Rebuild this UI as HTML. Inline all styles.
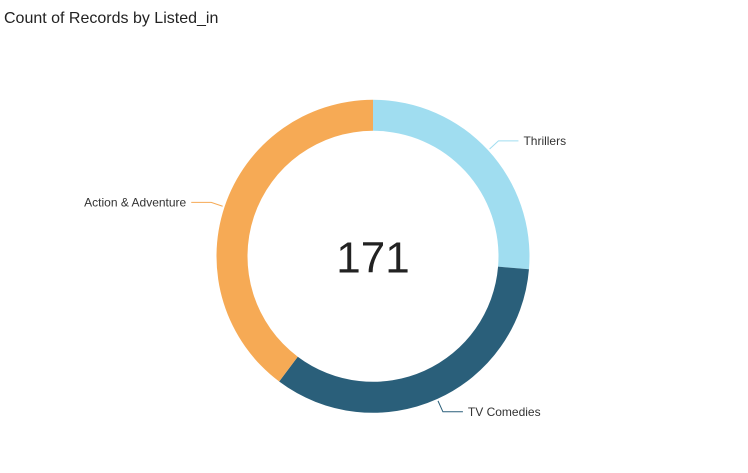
<!DOCTYPE html>
<html><head><meta charset="utf-8"><style>
body{margin:0;background:#fff;width:748px;height:473px;overflow:hidden;font-family:"Liberation Sans",sans-serif}
#title{position:absolute;left:4px;top:10px;font-size:16px;color:#222}
</style></head><body>
<div id="title">Count of Records by Listed_in</div>
<svg id="chart" width="748" height="473" style="position:absolute;left:0;top:0"></svg>
<script>
const categories=["Thrillers","TV Comedies","Action & Adventure"];
const values=[45,58,68];
const colors=["#a0ddf0","#2a5f7a","#f6aa55"];
const cx=373,cy=256.3,R=156.5,r=125.5;
const svg=document.getElementById('chart');
const NS='http://www.w3.org/2000/svg';
const total=values.reduce((a,b)=>a+b,0);
function pt(a,rad){return [cx+rad*Math.sin(a),cy-rad*Math.cos(a)];}
let acc=0;
values.forEach((v,i)=>{
  const a0=acc/total*2*Math.PI; acc+=v; const a1=acc/total*2*Math.PI;
  const lg=(a1-a0)>Math.PI?1:0;
  const p0=pt(a0,R),p1=pt(a1,R),q1=pt(a1,r),q0=pt(a0,r);
  const p=document.createElementNS(NS,'path');
  p.setAttribute('d',`M${p0}A${R},${R} 0 ${lg} 1 ${p1}L${q1}A${r},${r} 0 ${lg} 0 ${q0}Z`);
  p.setAttribute('fill',colors[i]);
  
  
  svg.appendChild(p);
  // label
  const mid=(a0+a1)/2;
  const e=pt(mid,R+2),k=pt(mid,R+14);
  const right=Math.sin(mid)>=0;
  const ex=k[0]+(right?20:-20);
  const l=document.createElementNS(NS,'polyline');
  l.setAttribute('points',`${e} ${k} ${ex},${k[1]}`);
  l.setAttribute('fill','none');l.setAttribute('stroke',colors[i]);l.setAttribute('stroke-width','1');
  
  
  svg.appendChild(l);
  const t=document.createElementNS(NS,'text');
  t.setAttribute('x',ex+(right?5:-5));t.setAttribute('y',k[1]+4);
  t.setAttribute('text-anchor',right?'start':'end');
  t.setAttribute('font-size','12');t.setAttribute('fill','#333');
  t.setAttribute('font-family','Liberation Sans, sans-serif');
  t.textContent=categories[i];
  
  
  svg.appendChild(t);
});
const c=document.createElementNS(NS,'text');
c.setAttribute('x',cx);c.setAttribute('y',cy+16);c.setAttribute('text-anchor','middle');
c.setAttribute('font-size','44');c.setAttribute('fill','#222');
c.setAttribute('font-family','Liberation Sans, sans-serif');
c.textContent=total;


svg.appendChild(c);
</script>
</body></html>
